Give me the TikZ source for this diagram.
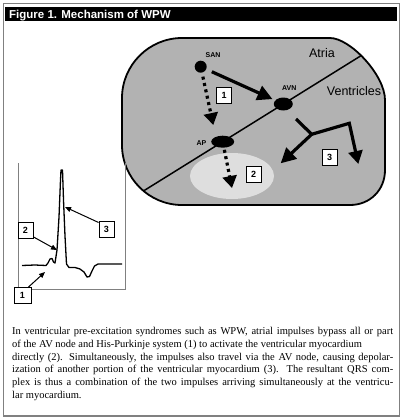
\documentclass[tikz,border=0pt]{standalone}
\usepackage{fontspec}
\setmainfont{Liberation Serif}
\setsansfont{Liberation Sans}
\usetikzlibrary{arrows.meta,shapes.geometric}
\tikzset{
  numbox/.style={draw=black, fill=white, line width=0.8pt, minimum width=15pt, minimum height=16pt, inner sep=0pt, font=\sffamily\bfseries\fontsize{9}{9}\selectfont},
  bigarrow/.style={line width=3.2pt, -{Triangle[length=15pt,width=15pt]}},
  dotarrow/.style={line width=3.2pt, dash pattern=on 3pt off 3.5pt, -{Triangle[length=12pt,width=14pt]}},
  smallarrow/.style={line width=1pt, -{Triangle[length=6pt,width=5pt]}},
  hlabel/.style={font=\sffamily\bfseries\fontsize{7}{7}\selectfont, inner sep=0pt},
  rlabel/.style={font=\sffamily\fontsize{12.5}{12.5}\selectfont, inner sep=0pt},
  bodyline/.style={anchor=base west, inner sep=0pt, font=\fontsize{10.5}{12.7}\selectfont},
}
\begin{document}
\begin{tikzpicture}[x=1pt,y=-1pt]
\useasboundingbox (0,0) rectangle (403,420);
% frame and title
\draw[black!50, line width=1.5pt] (3.5,3.5) rectangle (399.5,416);
\fill[black] (5,7) rectangle (397,21);
\node[anchor=base west, inner sep=0pt, text=white, font=\sffamily\bfseries\fontsize{11.5}{11.5}\selectfont] (title) at (9,18.3) {Figure 1. Mechanism of WPW};
% heart
\def\heartpath{(122,98) .. controls (122,65) and (149,38) .. (182,38) -- (330,38) .. controls (350,38) and (385,75) .. (385,100) -- (385,170) .. controls (385,190) and (370,205) .. (350,205) -- (182,205) .. controls (149,205) and (122,178) .. (122,145) -- cycle}
\fill[black!30] \heartpath;
\begin{scope}
  \clip \heartpath;
  \fill[black!13] (232,176) ellipse[x radius=42, y radius=23];
  \draw[line width=1.5pt] (100,218) -- (420,19);
\end{scope}
\draw[line width=1.8pt] \heartpath;
% nodes
\node[circle, fill=black, minimum size=12pt, inner sep=0pt] (san) at (200.7,66.7) {};
\node[ellipse, fill=black, minimum width=19pt, minimum height=13pt, inner sep=0pt] (avn) at (283.3,104) {};
\node[ellipse, fill=black, minimum width=23pt, minimum height=12pt, inner sep=0pt] (ap) at (222.7,141.7) {};
\node[hlabel] (sanl) at (213,55) {SAN};
\node[hlabel] (avnl) at (289.3,88.3) {AVN};
\node[hlabel] (apl) at (201.5,142.7) {AP};
\node[rlabel] (atria) at (322,53) {Atria};
\node[rlabel] (vent) at (354,91.5) {Ventricles};
% arrows in heart
\coordinate (d1) at (213.3,125);
\coordinate (d2) at (232,188);
\draw[bigarrow, shorten <=6pt, shorten >=3pt] (san) -- (avn);
\draw[dotarrow, shorten <=4pt] (san) -- (d1);
\draw[dotarrow, shorten <=2pt] (ap) -- (d2);
\coordinate (b0) at (296,119);
\coordinate (bj) at (311.7,134.3);
\coordinate (bl) at (280.7,163.3);
\coordinate (br1) at (349.3,123.3);
\coordinate (br) at (358.3,164);
\draw[line width=3.2pt] (b0) -- (bj);
\draw[bigarrow] (bj) -- (bl);
\draw[line width=3.2pt, -{Triangle[length=13pt,width=14pt]}] (bj) -- (br1) -- (br);
\node[numbox] (h1) at (224,95) {1};
\node[numbox] (h2) at (253.7,174.2) {2};
\node[numbox] (h3) at (329.5,157.2) {3};
% ECG panel
\draw[black!50, line width=0.8pt] (18,163) -- (18,289) -- (125,289) -- (125,163);
\draw[line width=1.3pt, line join=round] (22,265.5) -- (35,265) -- (46,265.5) -- (48,263) -- (50,259) -- (52,258.5) -- (53.5,262) -- (55,263) -- (57,250) -- (59,217) -- (60.5,180) -- (61,170) -- (62.5,170) -- (63.5,200) -- (65,236) -- (66.5,264) -- (69,267.5) -- (75,267.5) -- (80,269) -- (84,272) -- (87,277) -- (89.5,276.5) -- (92,271) -- (94.5,266) -- (98,264) -- (122,264);
\node[numbox] (e2) at (25.5,230.5) {2};
\node[numbox] (e3) at (106.5,229.5) {3};
\node[numbox, minimum width=17pt] (e1) at (22.5,295.5) {1};
\coordinate (t2) at (57,250);
\coordinate (t3) at (65,207);
\coordinate (t1) at (45,272);
\draw[smallarrow] (e2.south east) ++(0,-2) -- (t2);
\draw[smallarrow] (e3.west) ++(0,-7) -- (t3);
\draw[smallarrow] (e1.north east) ++(-3,0) -- (t1);
% body text
\node[bodyline] (l1) at (12,334.6) {\makebox[381pt][s]{In ventricular pre-excitation syndromes such as WPW, atrial impulses bypass all or part}};
\node[bodyline] (l2) at (12,347.3) {of the AV node and His-Purkinje system (1) to activate the ventricular myocardium};
\node[bodyline] (l3) at (12,360) {\makebox[381pt][s]{directly (2). Simultaneously, the impulses also travel via the AV node, causing depolar-}};
\node[bodyline] (l4) at (12,372.7) {\makebox[381pt][s]{ization of another portion of the ventricular myocardium (3). The resultant QRS com-}};
\node[bodyline] (l5) at (12,385.3) {\makebox[381pt][s]{plex is thus a combination of the two impulses arriving simultaneously at the ventricu-}};
\node[bodyline] (l6) at (12,398) {lar myocardium.};
\end{tikzpicture}
\end{document}
